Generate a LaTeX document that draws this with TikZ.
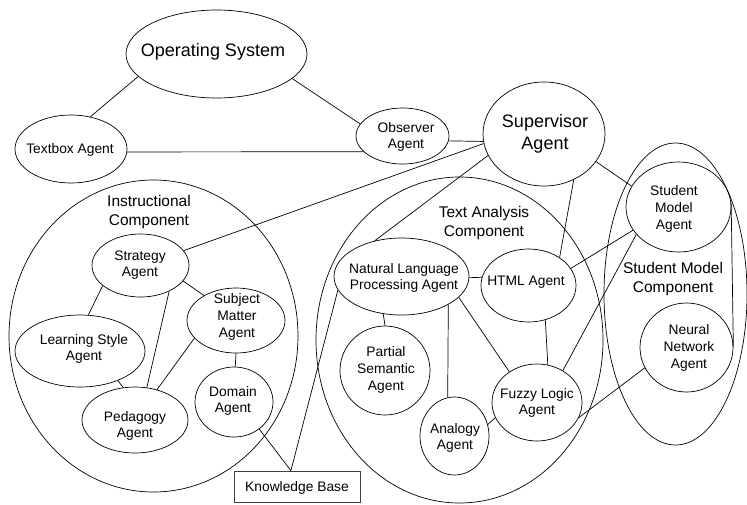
\documentclass[tikz,border=0pt]{standalone}
\usepackage{fontspec}
\setmainfont{Liberation Sans}
\usetikzlibrary{shapes.geometric}
\tikzset{
  ell/.style={draw, ellipse, inner sep=0pt, line width=0.7pt},
  lbl/.style={align=center, inner sep=0pt, font=\fontsize{13.8pt}{16.6pt}\selectfont},
  comp/.style={align=center, inner sep=0pt, font=\fontsize{15.5pt}{18.4pt}\selectfont},
  big/.style={align=center, inner sep=0pt, font=\fontsize{18pt}{21.7pt}\selectfont},
  con/.style={line width=0.7pt},
  kbbox/.style={draw=black!75, line width=0.8pt, rectangle, inner sep=0pt, minimum width=126pt, minimum height=31pt}
}
\begin{document}
\begin{tikzpicture}[x=1pt,y=-1pt]
\useasboundingbox (0,0) rectangle (747,504);
% ellipses
\node[ell, minimum width=181pt, minimum height=88pt] (os) at (216.5,54) {};
\node[ell, minimum width=112pt, minimum height=68pt] (tb) at (71,149) {};
\node[ell, minimum width=93pt, minimum height=56pt] (ob) at (402.5,136) {};
\node[ell, minimum width=122pt, minimum height=104pt] (sv) at (544,134) {};
\node[ell, minimum width=105pt, minimum height=90pt] (sma) at (678.5,207) {};
\node[ell, minimum width=143pt, minimum height=302pt] (smc) at (675.5,294) {};
\node[ell, minimum width=287pt, minimum height=326pt] (tac) at (459.5,340) {};
\node[ell, minimum width=289pt, minimum height=312pt] (ic) at (153.5,336) {};
\node[ell, minimum width=97pt, minimum height=63pt] (st) at (140.5,265.5) {};
\node[ell, minimum width=130pt, minimum height=72pt] (ls) at (80,351) {};
\node[ell, minimum width=98pt, minimum height=65pt] (sm) at (236,320.5) {};
\node[ell, minimum width=106pt, minimum height=66pt] (pe) at (135,420) {};
\node[ell, minimum width=78pt, minimum height=70pt] (dom) at (234,402) {};
\node[ell, minimum width=135pt, minimum height=77pt] (nlp) at (401.5,276.5) {};
\node[ell, minimum width=95pt, minimum height=73pt] (ht) at (528.5,285.5) {};
\node[ell, minimum width=90pt, minimum height=89pt] (ps) at (385,370.5) {};
\node[ell, minimum width=69pt, minimum height=78pt] (an) at (454.5,436) {};
\node[ell, minimum width=90pt, minimum height=77pt] (fu) at (537,402.5) {};
\node[ell, minimum width=93pt, minimum height=89pt] (nn) at (686.5,347.5) {};
\node[kbbox] (kb) at (297,486.5) {};
% labels
\node[big] at (213,52) {Operating System};
\node[big] at (545,134) {Supervisor\\Agent};
\node[lbl] at (70,150) {Textbox Agent};
\node[lbl] at (406,137) {Observer\\Agent};
\node[lbl] at (674,209) {Student\\Model\\Agent};
\node[comp] at (673,279) {Student Model\\Component};
\node[lbl] at (689,348) {Neural\\Network\\Agent};
\node[comp] at (484,223) {Text Analysis\\Component};
\node[lbl] at (526,282) {HTML Agent};
\node[lbl] at (404,278) {Natural Language\\Processing Agent};
\node[lbl] at (386,370) {Partial\\Semantic\\Agent};
\node[lbl] at (455,438) {Analogy\\Agent};
\node[lbl] at (537,403) {Fuzzy Logic\\Agent};
\node[comp] at (149,212) {Instructional\\Component};
\node[lbl] at (140,265) {Strategy\\Agent};
\node[lbl] at (84,349) {Learning Style\\Agent};
\node[lbl] at (237,317) {Subject\\Matter\\Agent};
\node[lbl] at (135,426) {Pedagogy\\Agent};
\node[lbl] at (233,401) {Domain\\Agent};
\node[lbl] at (297,488) {Knowledge Base};
% connectors
\draw[con] (os.196) -- (tb.59);
\draw[con] (os.342) -- (ob.164);
\draw[con] (tb.357) -- (ob.202);
\draw[con] (ob.354) -- (sv.187);
\draw[con] (sv.189) -- (st.19);
\draw[con] (sv.201) -- (nlp.127);
\draw[con] (nlp.192) -- (kb.111);
\draw[con] (dom.313) -- (kb.111);
\draw[con] (sv.332) -- (sma.156);
\draw[con] (sv.303) -- (ht.42);
\draw[con] (ht.22) -- (sma.207);
\draw[con] (fu.51) -- (sma.213);
\draw[con] (sma.4) -- (nn.1);
\draw[con] (nn.206) -- (fu.340);
\draw[con] (ht.296) -- (fu.74);
\draw[con] (nlp.359) -- (ht.170);
\draw[con] (nlp.244) -- (ps.90);
\draw[con] (nlp.329) -- (an.100);
\draw[con] (nlp.340) -- (fu.132);
\draw[con] (an.19) -- (fu.200);
\draw[con] (st.208) -- (ls.77);
\draw[con] (st.340) -- (sm.142);
\draw[con] (st.318) -- (pe.70);
\draw[con] (sm.203) -- (pe.54);
\draw[con] (ls.322) -- (pe.110);
\draw[con] (sm.270) -- (dom.88);
\end{tikzpicture}
\end{document}
